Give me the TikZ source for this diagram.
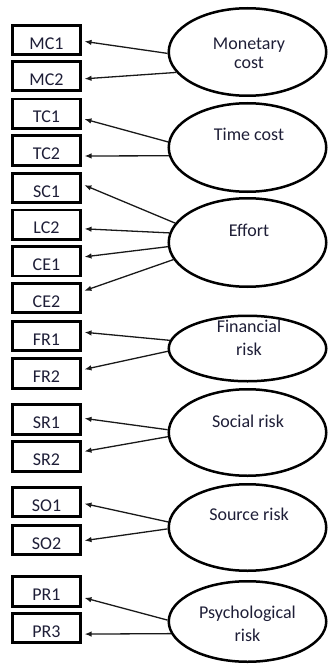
\documentclass[tikz,border=0pt]{standalone}
\usepackage{fontspec}
\setmainfont{Carlito}
\usetikzlibrary{shapes.geometric,arrows.meta}
\definecolor{labelink}{RGB}{30,30,55}
\definecolor{linkink}{RGB}{25,25,25}
\begin{document}
\begin{tikzpicture}[x=1pt,y=-1pt,
  indicator/.style={draw, line width=2.6pt, minimum width=67.5pt, minimum height=29.5pt,
    inner sep=0pt, text height=18.2pt, text depth=0pt,
    font=\fontsize{18}{20}\selectfont, text=labelink},
  construct/.style={draw, ellipse, line width=2.5pt, minimum width=157.5pt, inner sep=0pt},
  caption/.style={anchor=base, inner sep=0pt, font=\fontsize{18}{20}\selectfont, text=labelink},
  load/.style={line width=1.3pt, draw=linkink, shorten >=3pt,
    -{Latex[length=7pt,width=5.5pt]}}
]
\useasboundingbox (0,0) rectangle (329,666);

% observed indicators
\node[indicator] (mc1) at (46.5,40)    {MC1};
\node[indicator] (mc2) at (46.5,76)    {MC2};
\node[indicator] (tc1) at (46.5,113.7) {TC1};
\node[indicator] (tc2) at (46.5,150.5) {TC2};
\node[indicator] (sc1) at (46.5,188)   {SC1};
\node[indicator] (lc2) at (46.5,224.7) {LC2};
\node[indicator] (ce1) at (46.5,261.2) {CE1};
\node[indicator] (ce2) at (46.5,298)   {CE2};
\node[indicator] (fr1) at (46.5,336)   {FR1};
\node[indicator] (fr2) at (46.5,373.5) {FR2};
\node[indicator] (sr1) at (46.5,419.5) {SR1};
\node[indicator] (sr2) at (46.5,456.5) {SR2};
\node[indicator] (so1) at (46.5,502)   {SO1};
\node[indicator] (so2) at (46.5,540)   {SO2};
\node[indicator] (pr1) at (46.5,591.5) {PR1};
\node[indicator] (pr3) at (46.5,628)   {PR3};

% latent constructs
\node[construct, minimum height=87.5pt] (mon) at (247.5,52)    {};
\node[construct, minimum height=88.5pt] (tim) at (247.5,147.5) {};
\node[construct, minimum height=88.5pt] (eff) at (247.5,242.5) {};
\node[construct, minimum height=65.5pt] (fin) at (247.5,348.5) {};
\node[construct, minimum height=86.5pt] (soc) at (247.5,432.5) {};
\node[construct, minimum height=86.5pt] (src) at (247.5,527.5) {};
\node[construct, minimum height=80.5pt] (psy) at (247.5,621.5) {};

% construct names
\node[caption] (monA) at (249,50)    {Monetary};
\node[caption] (monB) at (249,68.3)  {cost};
\node[caption] (timA) at (249,140)   {Time cost};
\node[caption] (effA) at (249,236.7) {Effort};
\node[caption] (finA) at (249,332)   {Financial};
\node[caption] (finB) at (249,355)   {risk};
\node[caption] (socA) at (248,427.3) {Social risk};
\node[caption] (srcA) at (249,520.7) {Source risk};
\node[caption] (psyA) at (247.5,618) {Psychological};
\node[caption] (psyB) at (247.5,641.7) {risk};

% loadings
\draw[load] (mon.181.4) -- ([yshift=-1pt]mc1.east);
\draw[load] (mon.196.5) -- ([yshift=-3pt]mc2.east);
\draw[load] (tim.176.8) -- ([yshift=-4.6pt]tc1.east);
\draw[load] (tim.186)   -- ([yshift=-5.5pt]tc2.east);
\draw[load] (eff.165.8) -- ([yshift=4pt]sc1.east);
\draw[load] (eff.173)   -- ([yshift=-4pt]lc2.east);
\draw[load] (eff.183.5) -- ([yshift=4pt]ce1.east);
\draw[load] (eff.193)   -- ([yshift=6.3pt]ce2.east);
\draw[load] (fin.174.7) -- ([yshift=4pt]fr1.east);
\draw[load] (fin.182.6) -- ([yshift=3.5pt]fr2.east);
\draw[load] (soc.178.9) -- ([yshift=1.5pt]sr1.east);
\draw[load] (soc.183.9) -- ([yshift=4.6pt]sr2.east);
\draw[load] (src.176.2) -- ([yshift=-1pt]so1.east);
\draw[load] (src.181)   -- ([yshift=-1pt]so2.east);
\draw[load] (psy.179)   -- ([yshift=-5.6pt]pr1.east);
\draw[load] (psy.189.3) -- ([yshift=-6.1pt]pr3.east);
\end{tikzpicture}
\end{document}
